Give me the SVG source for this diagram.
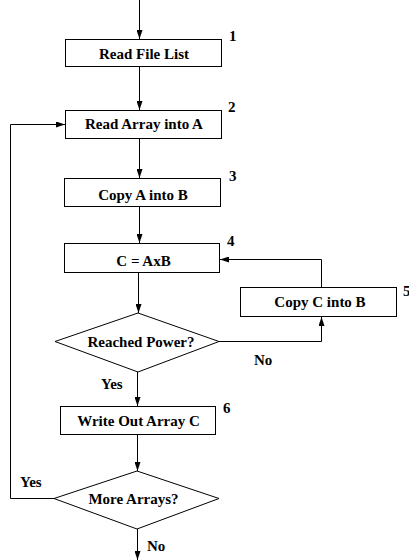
<svg xmlns="http://www.w3.org/2000/svg" width="409" height="560" viewBox="0 0 409 560">
<defs>
<marker id="ah" markerWidth="9" markerHeight="6" refX="9" refY="3" orient="auto" markerUnits="userSpaceOnUse">
<path d="M0,0 L9,3 L0,6 z" fill="#000"/>
</marker>
<style>
.box{fill:#fff;stroke:#000;stroke-width:1}
.t{font-family:"Liberation Serif","Times New Roman",serif;font-weight:bold;font-size:15px;fill:#000}
.c{text-anchor:middle}
.ln{fill:none;stroke:#000;stroke-width:1}
.ar{marker-end:url(#ah)}
</style>
</defs>
<rect width="409" height="560" fill="#fff"/>
<g id="connectors">
<line class="ln ar" x1="139.5" y1="0" x2="139.5" y2="39"/>
<line class="ln ar" x1="139.5" y1="67" x2="139.5" y2="110"/>
<line class="ln ar" x1="139.5" y1="139" x2="139.5" y2="178"/>
<line class="ln ar" x1="139.5" y1="207" x2="139.5" y2="243"/>
<line class="ln ar" x1="138.5" y1="273" x2="138.5" y2="313"/>
<line class="ln ar" x1="137.5" y1="372" x2="137.5" y2="406"/>
<line class="ln ar" x1="137.5" y1="435" x2="137.5" y2="471"/>
<line class="ln ar" x1="137.5" y1="529" x2="137.5" y2="560"/>
<path class="ln ar" d="M219,341.5 H321.5 V317"/>
<path class="ln ar" d="M321.5,287 V259.5 H220"/>
<path class="ln ar" d="M54,498.5 H10.5 V124.5 H65"/>
<text class="t" x="254" y="365">No</text>
<text class="t" x="101" y="389">Yes</text>
<text class="t" x="20" y="487">Yes</text>
<text class="t" x="147" y="551">No</text>
</g>
<g id="n1">
<rect class="box" x="65.5" y="39.5" width="156" height="27"/>
<text class="t c" x="144" y="58.5">Read File List</text>
<text class="t" x="229" y="41">1</text>
</g>
<g id="n2">
<rect class="box" x="65.5" y="110.5" width="156" height="28"/>
<text class="t c" x="144" y="129">Read Array into A</text>
<text class="t" x="228" y="112">2</text>
</g>
<g id="n3">
<rect class="box" x="64.5" y="178.5" width="156" height="28"/>
<text class="t c" x="143" y="199.5">Copy A into B</text>
<text class="t" x="229" y="181">3</text>
</g>
<g id="n4">
<rect class="box" x="64.5" y="243.5" width="155" height="29"/>
<text class="t c" x="143.5" y="266">C = AxB</text>
<text class="t" x="227" y="246">4</text>
</g>
<g id="n5">
<rect class="box" x="240.5" y="287.5" width="156" height="29"/>
<text class="t c" x="320" y="306.5">Copy C into B</text>
<text class="t" x="403" y="296">5</text>
</g>
<g id="d1">
<polygon class="box" points="138,313 219,341.5 138,372 55,341.5"/>
<text class="t c" x="141" y="347">Reached Power?</text>
</g>
<g id="n6">
<rect class="box" x="60.5" y="406.5" width="155" height="28"/>
<text class="t c" x="138.5" y="426">Write Out Array C</text>
<text class="t" x="223" y="413">6</text>
</g>
<g id="d2">
<polygon class="box" points="137,471 219,498.5 137,529 54,498.5"/>
<text class="t c" x="133.5" y="504">More Arrays?</text>
</g>
</svg>
